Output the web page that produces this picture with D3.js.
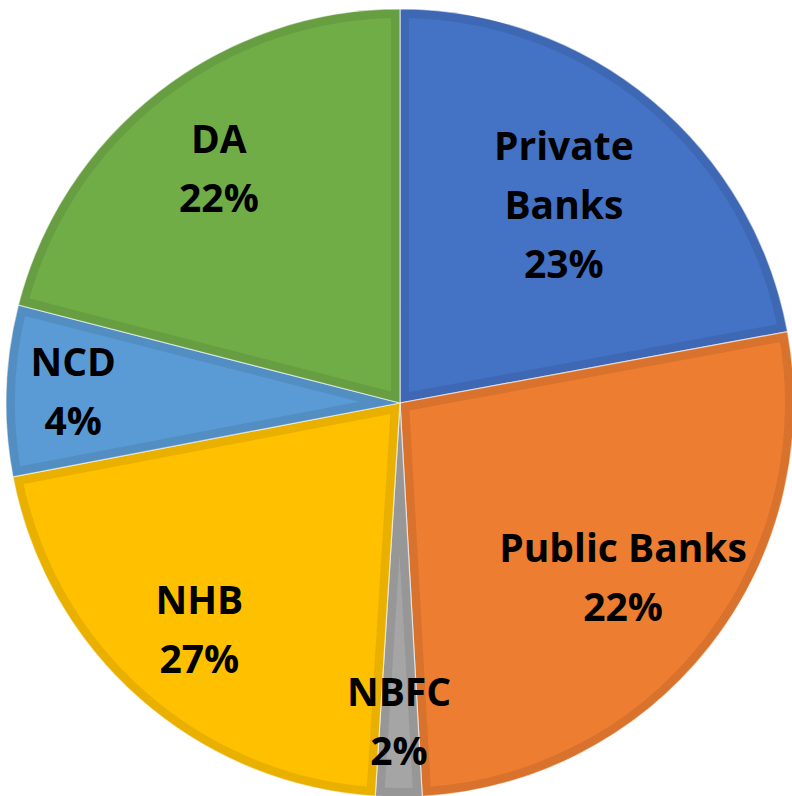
<!DOCTYPE html>
<html>
<head>
<meta charset="utf-8">
<script src="https://cdn.jsdelivr.net/npm/d3@7"></script>
<style>
  body { margin: 0; background: #fff; }
  svg text { font-family: "Open Sans", Lato, sans-serif; font-weight: bold; }
</style>
</head>
<body>
<div id="pie"></div>
<script>
// categories, slice sizes and the printed % labels
var categories = ["Private\nBanks", "Public Banks", "NBFC", "NHB", "NCD", "DA"];
var values = [22.1, 27.0, 1.9, 21.0, 7.0, 21.0];
var pctLabels = ["23%", "22%", "2%", "27%", "4%", "22%"];
var colors = ["#4472C4", "#ED7D31", "#A5A5A5", "#FFC000", "#5B9BD5", "#70AD47"];

//layout
var svgWidth = 792, svgHeight = 796;
var cx = 400, cy = 403, radius = 394;
var labelRadius = [0.65, 0.72, 0.81, 0.77, 0.83, 0.75];
var lineHeight = 59;

var svg = d3.select('#pie')
    .append('svg')
    .attr('width', svgWidth)
    .attr('height', svgHeight);

var chart = svg.append('g').attr('transform', `translate(${cx}, ${cy})`);

var pie = d3.pie().sort(null).value(d => d.value);
var arc = d3.arc().innerRadius(0).outerRadius(radius);

var data = categories.map((c, i) => ({name: c, value: values[i], pct: pctLabels[i], color: colors[i], lr: labelRadius[i]}));
var arcs = pie(data);

var defs = svg.append('defs');
defs.selectAll('clipPath')
    .data(arcs)
    .enter()
    .append('clipPath')
    .attr('id', (d, i) => 'clip' + i)
    .append('path')
    .attr('d', arc);

//slices with darker inner border
var slices = chart.selectAll('g.slice')
    .data(arcs)
    .enter()
    .append('g')
    .attr('class', 'slice');

slices.append('path')
    .attr('d', arc)
    .attr('fill', d => d.data.color)
    .attr('stroke', d => d3.color(d.data.color).darker(0.25))
    .attr('stroke-width', 18)
    .attr('stroke-linejoin', 'round')
    .attr('clip-path', (d, i) => `url(#clip${i})`);

//thin light separators
slices.append('path')
    .attr('d', arc)
    .attr('fill', 'none')
    .attr('stroke', '#ffffff')
    .attr('stroke-opacity', 0.6)
    .attr('stroke-width', 1.2);

//labels
var labels = chart.selectAll('text.lbl')
    .data(arcs)
    .enter()
    .append('text')
    .attr('class', 'lbl')
    .attr('text-anchor', 'middle')
    .style('font-size', '39px')
    .attr('fill', '#000')
    .attr('transform', d => {
        var a = (d.startAngle + d.endAngle) / 2;
        var r = radius * d.data.lr;
        return `translate(${Math.sin(a) * r}, ${-Math.cos(a) * r})`;
    });

labels.each(function(d) {
    var lines = d.data.name.split('\n').concat([d.data.pct]);
    var y0 = -(lines.length - 1) * lineHeight / 2 + 13;
    d3.select(this).selectAll('tspan')
        .data(lines)
        .enter()
        .append('tspan')
        .attr('x', 0)
        .attr('y', (l, j) => y0 + j * lineHeight)
        .text(l => l);
});
</script>
</body>
</html>
